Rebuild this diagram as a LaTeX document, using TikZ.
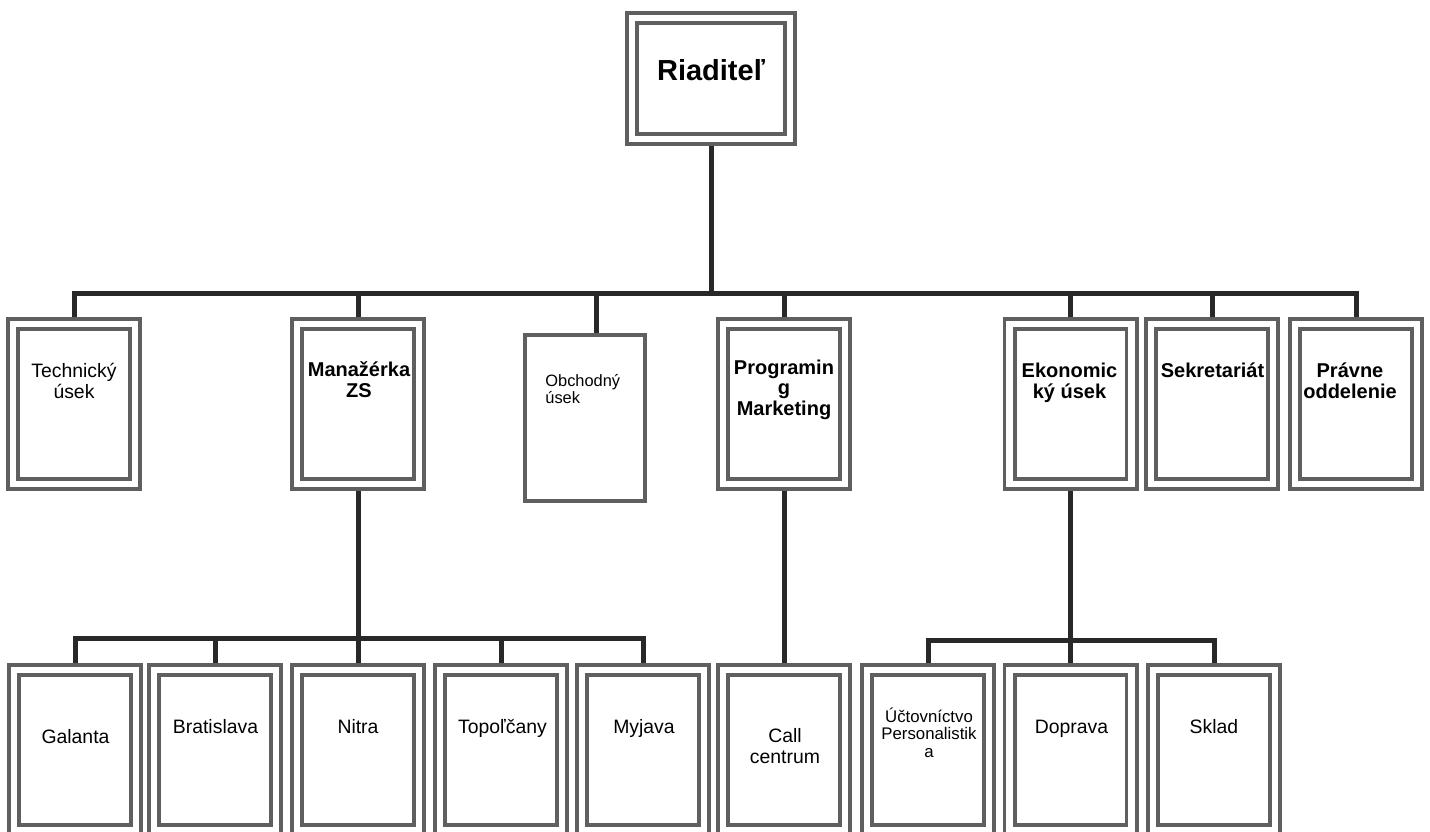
\documentclass[tikz,border=0pt]{standalone}
\usepackage{fontspec}
\setmainfont{Liberation Sans}
\definecolor{boxgray}{RGB}{95,95,95}
\definecolor{conncol}{RGB}{40,40,40}
\tikzset{
  dbox/.style={draw=boxgray, line width=1.85pt, double=white, double distance=3.3pt,
    fill=white, inner sep=0pt, outer sep=3.5pt, minimum width=61pt, minimum height=80pt},
  sbox/.style={draw=boxgray, line width=2pt, fill=white, inner sep=0pt, outer sep=1pt,
    minimum width=60pt, minimum height=83pt},
  conn/.style={draw=conncol, line width=2.5pt, line join=miter},
  lbl/.style={anchor=base, align=center, inner sep=0pt, text=black},
  regf/.style={font=\fontsize{9.7pt}{10.2pt}\selectfont},
  boldf/.style={font=\fontsize{10pt}{10.2pt}\selectfont\bfseries},
  smallf/.style={font=\fontsize{8.2pt}{8.5pt}\selectfont},
}
\begin{document}
\begin{tikzpicture}[x=0.5pt,y=-0.5pt]
\useasboundingbox (0,0) rectangle (1430,831);
\clip (0,0) rectangle (1430,831);
\fill[white] (0,0) rectangle (1430,831);
% top
\node[dbox, minimum width=79pt, minimum height=60.5pt] (R) at (711,78.5) {};
% first level
\node[dbox] (tech) at (74,404) {};
\node[dbox] (man) at (358,404) {};
\node[sbox] (obch) at (585,418) {};
\node[dbox] (prog) at (784,404) {};
\node[dbox] (ekon) at (1070.5,404) {};
\node[dbox] (sekr) at (1212,404) {};
\node[dbox] (prav) at (1356,404) {};
% second level
\node[dbox] (gal) at (75,750) {};
\node[dbox] (bra) at (215,750) {};
\node[dbox] (nit) at (358,750) {};
\node[dbox] (top) at (501,750) {};
\node[dbox] (myj) at (643,750) {};
\node[dbox] (call) at (784,750) {};
\node[dbox] (uct) at (928,750) {};
\node[dbox] (dop) at (1070.5,750) {};
\node[dbox] (skl) at (1214,750) {};
% junctions
\coordinate (j0) at (711,293);
\coordinate (jo) at (596,293);
\coordinate (j1) at (358,638);
\coordinate (j2) at (1070.5,640);
% connectors
\draw[conn] (R.south) -- (j0);
\draw[conn] (tech.north) |- (j0) -| (prav.north);
\draw[conn] (man.north) -- (man.north |- j0);
\draw[conn] (jo) -- (jo |- obch.north);
\draw[conn] (prog.north) -- (prog.north |- j0);
\draw[conn] (ekon.north) -- (ekon.north |- j0);
\draw[conn] (sekr.north) -- (sekr.north |- j0);
\draw[conn] (man.south) -- (nit.north);
\draw[conn] (gal.north) |- (j1) -| (myj.north);
\draw[conn] (bra.north) -- (bra.north |- j1);
\draw[conn] (top.north) -- (top.north |- j1);
\draw[conn] (prog.south) -- (call.north);
\draw[conn] (ekon.south) -- (dop.north);
\draw[conn] (uct.north) |- (j2) -| (skl.north);
% labels (anchor base = baseline of last line)
\node[lbl, font=\fontsize{14.5pt}{15pt}\selectfont\bfseries] (Rl) at (711,80) {Riaditeľ};
\node[lbl, regf] (techl) at (74,398) {Technický\\úsek};
\node[lbl, boldf] (manl) at (359,397) {Manažérka\\ZS};
\node[lbl, smallf, anchor=base west, align=left] (obchl) at (545,403) {Obchodný\\úsek};
\node[lbl, boldf] (progl) at (784,415) {Programin\\g\\Marketing};
\node[lbl, boldf] (ekonl) at (1069.5,398) {Ekonomic\\ký úsek};
\node[lbl, boldf] (sekrl) at (1212.5,377) {Sekretariát};
\node[lbl, boldf] (pravl) at (1350,398) {Právne\\oddelenie};
\node[lbl, regf] (gall) at (75.5,743) {Galanta};
\node[lbl, regf] (bral) at (215.5,733) {Bratislava};
\node[lbl, regf] (nitl) at (358,733) {Nitra};
\node[lbl, regf] (topl) at (502.5,733) {Topoľčany};
\node[lbl, regf] (myjl) at (644,733) {Myjava};
\node[lbl, regf] (calll) at (785,763) {Call\\centrum};
\node[lbl, font=\fontsize{8.4pt}{8.6pt}\selectfont] (uctl) at (929,757) {Účtovníctvo\\Personalistik\\a};
\node[lbl, regf] (dopl) at (1071.5,733) {Doprava};
\node[lbl, regf] (skll) at (1214,733) {Sklad};
\end{tikzpicture}
\end{document}
